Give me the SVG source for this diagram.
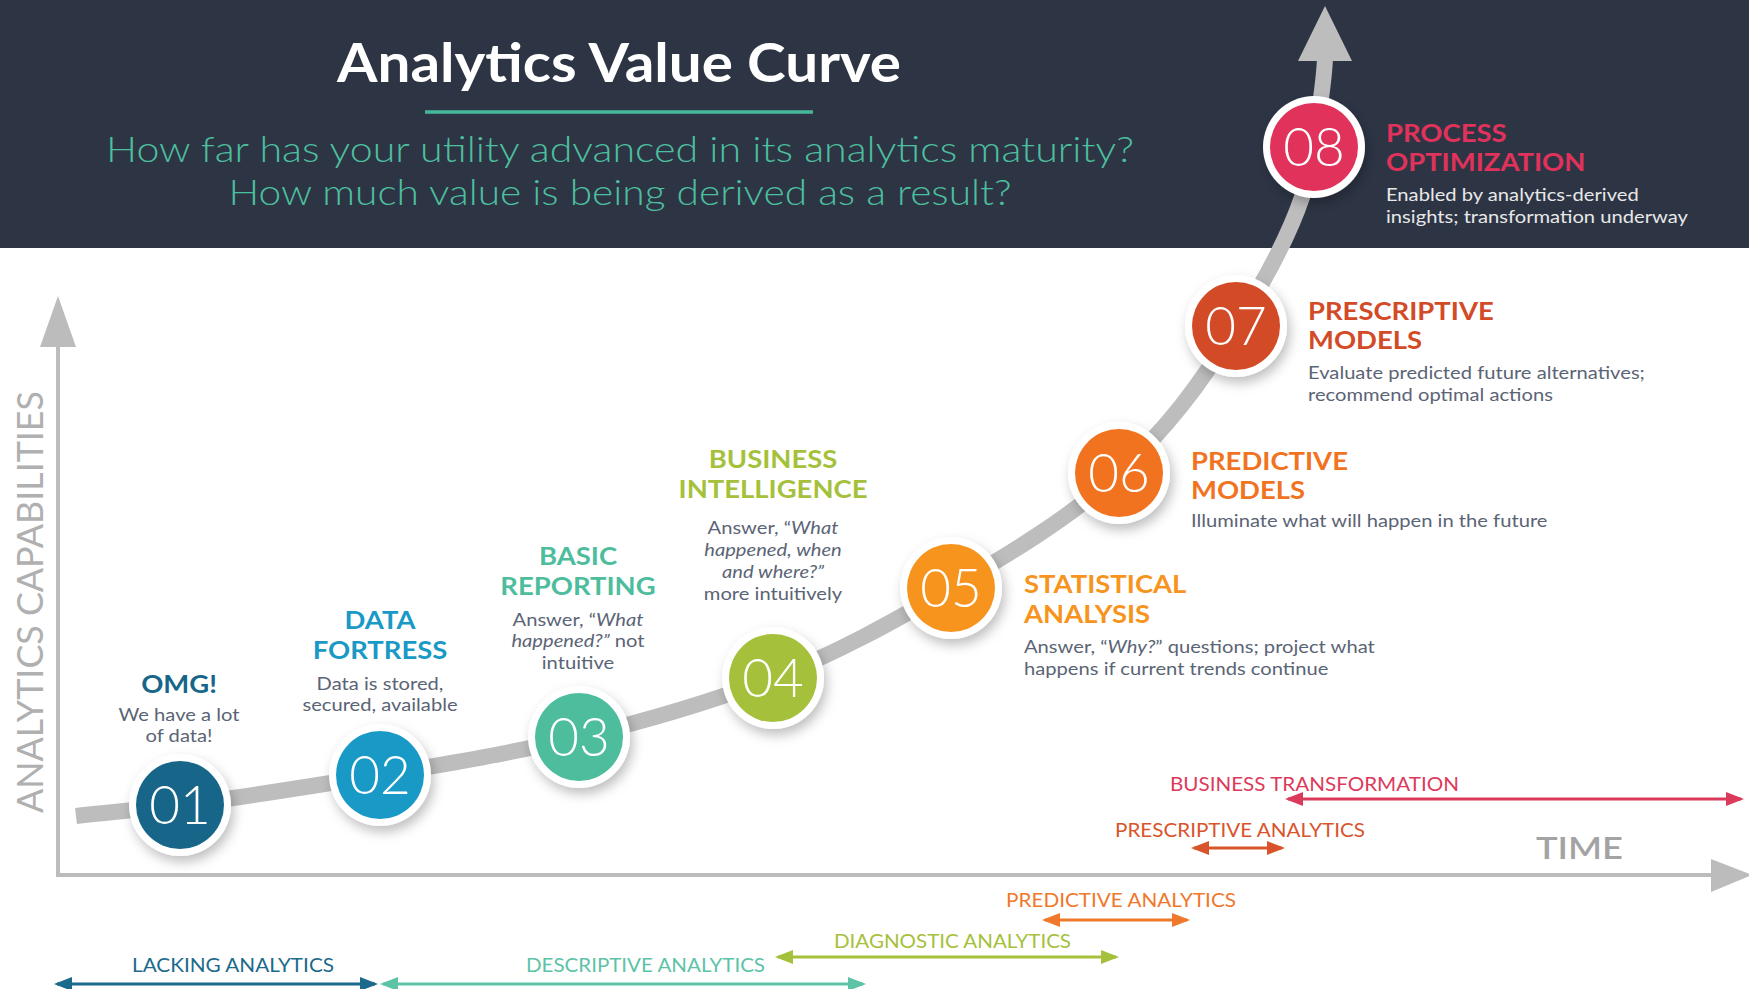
<svg xmlns="http://www.w3.org/2000/svg" width="1749" height="989" viewBox="0 0 1749 989">
<style>
text{font-family:Lato,"Liberation Sans",sans-serif}
.h{font-weight:700;font-size:24.5px}
.b{font-weight:400;font-size:18px;fill:#5b6475}
.i{font-style:italic}
.num{font-weight:300;font-size:53px;fill:#ffffff;text-anchor:middle}
.rl{font-weight:400;font-size:20px;text-anchor:middle}
.ring{fill:#ffffff;filter:url(#sh)}
.axis{stroke:#bcbcbc;stroke-width:4;fill:none}
.rng{stroke-width:3;fill:none}
</style>
<defs>
<filter id="sh" x="-30%" y="-30%" width="160%" height="170%">
<feDropShadow dx="3" dy="6" stdDeviation="6" flood-color="#000" flood-opacity="0.25"/>
</filter>
<marker id="mBT" viewBox="0 0 18 14" refX="15" refY="7" markerWidth="18" markerHeight="14" markerUnits="userSpaceOnUse" orient="auto-start-reverse"><path d="M0,0 L18,7 L0,14 z" fill="#dc3a5b"/></marker>
<marker id="mPA" viewBox="0 0 18 14" refX="15" refY="7" markerWidth="18" markerHeight="14" markerUnits="userSpaceOnUse" orient="auto-start-reverse"><path d="M0,0 L18,7 L0,14 z" fill="#d9542b"/></marker>
<marker id="mPR" viewBox="0 0 18 14" refX="15" refY="7" markerWidth="18" markerHeight="14" markerUnits="userSpaceOnUse" orient="auto-start-reverse"><path d="M0,0 L18,7 L0,14 z" fill="#f0782a"/></marker>
<marker id="mDG" viewBox="0 0 18 14" refX="15" refY="7" markerWidth="18" markerHeight="14" markerUnits="userSpaceOnUse" orient="auto-start-reverse"><path d="M0,0 L18,7 L0,14 z" fill="#a5c13b"/></marker>
<marker id="mDS" viewBox="0 0 18 14" refX="15" refY="7" markerWidth="18" markerHeight="14" markerUnits="userSpaceOnUse" orient="auto-start-reverse"><path d="M0,0 L18,7 L0,14 z" fill="#5cc3a6"/></marker>
<marker id="mLA" viewBox="0 0 18 14" refX="15" refY="7" markerWidth="18" markerHeight="14" markerUnits="userSpaceOnUse" orient="auto-start-reverse"><path d="M0,0 L18,7 L0,14 z" fill="#1b6a8b"/></marker>
</defs>

<rect x="0" y="0" width="1749" height="989" fill="#ffffff"/>
<g id="header">
<rect x="0" y="0" width="1749" height="248" fill="#2d3545"/>
<text x="619" y="82" text-anchor="middle" font-size="54" font-weight="700" fill="#ffffff" textLength="564" lengthAdjust="spacingAndGlyphs">Analytics Value Curve</text>
<line x1="425" y1="112" x2="813" y2="112" stroke="#46b89a" stroke-width="3.5"/>
<text x="620" y="162" text-anchor="middle" font-size="35" font-weight="300" fill="#4cbf9e" textLength="1028" lengthAdjust="spacingAndGlyphs">How far has your utility advanced in its analytics maturity?</text>
<text x="620" y="205" text-anchor="middle" font-size="35" font-weight="300" fill="#4cbf9e" textLength="783" lengthAdjust="spacingAndGlyphs">How much value is being derived as a result?</text>
</g>

<g id="axes">
<line class="axis" x1="58" y1="345" x2="58" y2="877"/>
<polygon points="58,296 40,347 76,347" fill="#bcbcbc"/>
<line class="axis" x1="56" y1="875" x2="1714" y2="875"/>
<polygon points="1711,859 1711,892 1752,875" fill="#bcbcbc"/>
<text transform="translate(43 602) rotate(-90)" x="0" y="0" text-anchor="middle" font-size="36" font-weight="400" fill="#b0b0b0" textLength="422" lengthAdjust="spacingAndGlyphs">ANALYTICS CAPABILITIES</text>
<text x="1536" y="859" font-size="31" font-weight="600" fill="#a3a3a3" textLength="87" lengthAdjust="spacingAndGlyphs">TIME</text>
</g>

<g id="connectors">
<path d="M76,816 C110,812 130,811 180,805 C230,799 313,786 380,775 C446,764 513,753 579,737 C645,721 711,702 773,678 C835,654 893,622 951,588 C1009,554 1071,517 1119,473 C1166,429 1199,387 1236,326 C1275,265 1308,200 1314,147 C1319,110 1324,85 1325,58" fill="none" stroke="#bdbdbd" stroke-width="16"/>
<polygon points="1325,6 1298,61 1352,61" fill="#bdbdbd"/>
<line class="rng" x1="1288" y1="799" x2="1741" y2="799" stroke="#dc3a5b" marker-start="url(#mBT)" marker-end="url(#mBT)"/>
<line class="rng" x1="1194" y1="848" x2="1282" y2="848" stroke="#d9542b" marker-start="url(#mPA)" marker-end="url(#mPA)"/>
<line class="rng" x1="1045" y1="920" x2="1187" y2="920" stroke="#f0782a" marker-start="url(#mPR)" marker-end="url(#mPR)"/>
<line class="rng" x1="778" y1="957" x2="1116" y2="957" stroke="#a5c13b" marker-start="url(#mDG)" marker-end="url(#mDG)"/>
<line class="rng" x1="383" y1="984" x2="863" y2="984" stroke="#5cc3a6" marker-start="url(#mDS)" marker-end="url(#mDS)"/>
<line class="rng" x1="57" y1="984" x2="375" y2="984" stroke="#1b6a8b" marker-start="url(#mLA)" marker-end="url(#mLA)"/>
</g>

<g id="range-labels">
<text class="rl" x="1314.5" y="791" fill="#dc3a5b" textLength="289" lengthAdjust="spacingAndGlyphs">BUSINESS TRANSFORMATION</text>
<text class="rl" x="1240" y="837" fill="#d9542b" textLength="250" lengthAdjust="spacingAndGlyphs">PRESCRIPTIVE ANALYTICS</text>
<text class="rl" x="1121" y="907" fill="#f0782a" textLength="230" lengthAdjust="spacingAndGlyphs">PREDICTIVE ANALYTICS</text>
<text class="rl" x="952.5" y="948" fill="#a5c13b" textLength="237" lengthAdjust="spacingAndGlyphs">DIAGNOSTIC ANALYTICS</text>
<text class="rl" x="645.5" y="972" fill="#5cc3a6" textLength="239" lengthAdjust="spacingAndGlyphs">DESCRIPTIVE ANALYTICS</text>
<text class="rl" x="233" y="972" fill="#1b6a8b" textLength="202" lengthAdjust="spacingAndGlyphs">LACKING ANALYTICS</text>
</g>

<g id="node-01">
<circle class="ring" cx="180" cy="805" r="51"/>
<circle cx="180" cy="805" r="44" fill="#17668a"/>
<text class="num" x="180" y="824">01</text>
<g transform="translate(179 0) scale(1.12 1)" text-anchor="middle">
<text class="h" x="0" y="693" fill="#17668a">OMG!</text>
<text class="b"><tspan x="0" y="721">We have a lot</tspan><tspan x="0" y="742">of data!</tspan></text>
</g>
</g>

<g id="node-02">
<circle class="ring" cx="380" cy="775" r="51"/>
<circle cx="380" cy="775" r="44" fill="#1999c6"/>
<text class="num" x="380" y="794">02</text>
<g transform="translate(380 0) scale(1.12 1)" text-anchor="middle">
<text class="h" fill="#1999c6"><tspan x="0" y="629">DATA</tspan><tspan x="0" y="659">FORTRESS</tspan></text>
<text class="b"><tspan x="0" y="690">Data is stored,</tspan><tspan x="0" y="711">secured, available</tspan></text>
</g>
</g>

<g id="node-03">
<circle class="ring" cx="579" cy="737" r="51"/>
<circle cx="579" cy="737" r="44" fill="#4dbd9d"/>
<text class="num" x="579" y="756">03</text>
<g transform="translate(578 0) scale(1.12 1)" text-anchor="middle">
<text class="h" fill="#4dbd9d"><tspan x="0" y="565">BASIC</tspan><tspan x="0" y="595">REPORTING</tspan></text>
<text class="b"><tspan x="0" y="626">Answer, “<tspan class="i">What</tspan></tspan><tspan x="0" y="647"><tspan class="i">happened?”</tspan> not</tspan><tspan x="0" y="669">intuitive</tspan></text>
</g>
</g>

<g id="node-04">
<circle class="ring" cx="773" cy="678" r="51"/>
<circle cx="773" cy="678" r="44" fill="#a5c13b"/>
<text class="num" x="773" y="697">04</text>
<g transform="translate(773 0) scale(1.12 1)" text-anchor="middle">
<text class="h" fill="#a5c13b"><tspan x="0" y="468">BUSINESS</tspan><tspan x="0" y="498">INTELLIGENCE</tspan></text>
<text class="b"><tspan x="0" y="534">Answer, “<tspan class="i">What</tspan></tspan><tspan x="0" y="556" class="i">happened, when</tspan><tspan x="0" y="578" class="i">and where?”</tspan><tspan x="0" y="600">more intuitively</tspan></text>
</g>
</g>

<g id="node-05">
<circle class="ring" cx="951" cy="588" r="51"/>
<circle cx="951" cy="588" r="44" fill="#f7941d"/>
<text class="num" x="951" y="607">05</text>
<g transform="translate(1024 0) scale(1.12 1)">
<text class="h" fill="#f7941d"><tspan x="0" y="593">STATISTICAL</tspan><tspan x="0" y="623">ANALYSIS</tspan></text>
<text class="b"><tspan x="0" y="653">Answer, “<tspan class="i">Why?</tspan>” questions; project what</tspan><tspan x="0" y="675">happens if current trends continue</tspan></text>
</g>
</g>

<g id="node-06">
<circle class="ring" cx="1119" cy="473" r="51"/>
<circle cx="1119" cy="473" r="44" fill="#f1731f"/>
<text class="num" x="1119" y="492">06</text>
<g transform="translate(1191 0) scale(1.12 1)">
<text class="h" fill="#f1731f"><tspan x="0" y="470">PREDICTIVE</tspan><tspan x="0" y="499">MODELS</tspan></text>
<text class="b" x="0" y="527">Illuminate what will happen in the future</text>
</g>
</g>

<g id="node-07">
<circle class="ring" cx="1236" cy="326" r="51"/>
<circle cx="1236" cy="326" r="44" fill="#d34a27"/>
<text class="num" x="1236" y="345">07</text>
<g transform="translate(1308 0) scale(1.12 1)">
<text class="h" fill="#d34a27"><tspan x="0" y="320">PRESCRIPTIVE</tspan><tspan x="0" y="349">MODELS</tspan></text>
<text class="b"><tspan x="0" y="379">Evaluate predicted future alternatives;</tspan><tspan x="0" y="401">recommend optimal actions</tspan></text>
</g>
</g>

<g id="node-08">
<circle class="ring" cx="1314" cy="147" r="51"/>
<circle cx="1314" cy="147" r="44" fill="#e0325a"/>
<text class="num" x="1314" y="166">08</text>
<g transform="translate(1386 0) scale(1.12 1)">
<text class="h" fill="#e0325a"><tspan x="0" y="142">PROCESS</tspan><tspan x="0" y="171">OPTIMIZATION</tspan></text>
<text class="b" style="fill:#e8e8e8"><tspan x="0" y="201">Enabled by analytics-derived</tspan><tspan x="0" y="223">insights; transformation underway</tspan></text>
</g>
</g>
</svg>
